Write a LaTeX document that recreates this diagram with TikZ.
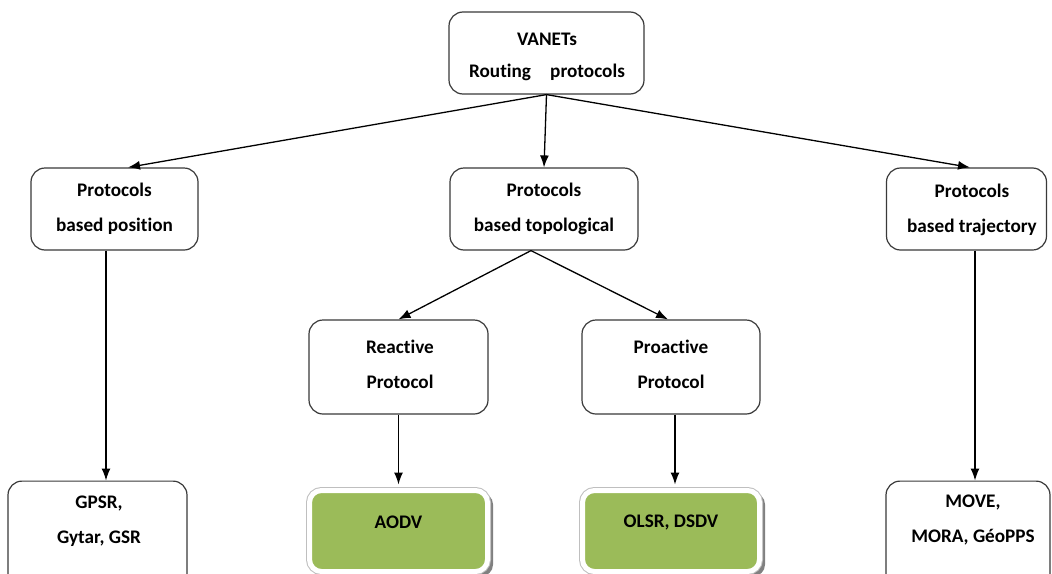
\documentclass[tikz,border=0pt]{standalone}
\usepackage{fontspec}
\setmainfont{Carlito}[Ligatures={NoCommon}]
\usetikzlibrary{arrows.meta}
\definecolor{boxgreen}{HTML}{9BBB59}
\definecolor{edge}{HTML}{3A3A3A}
\tikzset{
  txt/.style={align=center, font=\fontsize{19.2}{35}\selectfont\bfseries, text=black, inner sep=0pt},
  box/.style={draw=edge, line width=1.2pt, rounded corners=14pt, fill=white, txt},
  shadowbox/.style={fill=black!50, rounded corners=12pt, inner sep=0pt, draw=none},
  greenbox/.style={preaction={draw=black!25, line width=7pt},
    draw=white, line width=5pt, fill=boxgreen, rounded corners=12pt, txt},
  arr/.style={line width=1.3pt, draw=black, -{Latex[length=12pt,width=9pt]}}
}
\begin{document}
\begin{tikzpicture}[x=1pt,y=1pt]
\clip (0,0) rectangle (1052,-573);
\fill[white] (0,0) rectangle (1052,-573);
% top
\node[box, minimum width=195pt, minimum height=82pt] (top) at (546.5,-53) {};
\node[txt, font=\fontsize{19.2}{32}\selectfont\bfseries] (toptext) at (547,-57) {VANETs\\Routing\quad protocols};
% middle level
\node[box, minimum width=167pt, minimum height=82pt] (lm) at (114.5,-209) {Protocols\\based position};
\node[box, minimum width=188pt, minimum height=82pt] (cm) at (544,-209) {Protocols\\based topological};
\node[box, minimum width=160pt, minimum height=82pt] (rm) at (966.5,-209) {};
\node[txt] (rmtext) at (972,-210) {Protocols\\based trajectory};
% third level
\node[box, minimum width=179pt, minimum height=94pt] (re) at (398.5,-367) {};
\node[txt] (retext) at (400,-364) {Reactive\\Protocol};
\node[box, minimum width=178pt, minimum height=94pt] (pr) at (671,-367) {};
\node[txt] (prtext) at (671,-364) {Proactive\\Protocol};
% bottom level
\node[box, minimum width=179pt, minimum height=110pt, anchor=north] (bl) at (97.5,-480.5) {};
\node[txt] (bltext) at (99,-521) {GPSR,\\Gytar, GSR};
\node[box, minimum width=164pt, minimum height=110pt, anchor=north] (br) at (968,-480.5) {};
\node[txt] (brtext) at (973,-520) {MOVE,\\MORA, GéoPPS};
\node[shadowbox, minimum width=182pt, minimum height=84pt] (aodvsh) at (402,-534.5) {};
\node[greenbox, minimum width=178pt, minimum height=81pt] (aodv) at (398.5,-531) {};
\node[txt] (aodvtext) at (398.5,-522) {AODV};
\node[shadowbox, minimum width=181pt, minimum height=84pt] (olsrsh) at (674.5,-534.5) {};
\node[greenbox, minimum width=177pt, minimum height=81pt] (olsr) at (671,-531) {};
\node[txt] (olsrtext) at (671,-522) {OLSR, DSDV};
% connectors
\draw[arr] (top.south) -- ([xshift=13.5pt]lm.north);
\draw[arr] (top.south) -- (cm.north);
\draw[arr] (top.south) -- ([xshift=3.5pt]rm.north);
\draw[arr] ([xshift=-8.5pt]lm.south) -- (bl.north -| 106,0);
\coordinate (cmfork) at ([xshift=-13pt]cm.south);
\draw[arr] (cmfork) -- (re.north);
\draw[arr] (cmfork) -- ([xshift=-3pt]pr.north);
\draw[arr] (re.south) -- ([yshift=3.5pt]aodv.north);
\draw[arr] ([xshift=4pt]pr.south) -- ([xshift=4pt,yshift=3.5pt]olsr.north);
\draw[arr] ([xshift=8.5pt]rm.south) -- ([xshift=7pt]br.north);
\end{tikzpicture}
\end{document}
